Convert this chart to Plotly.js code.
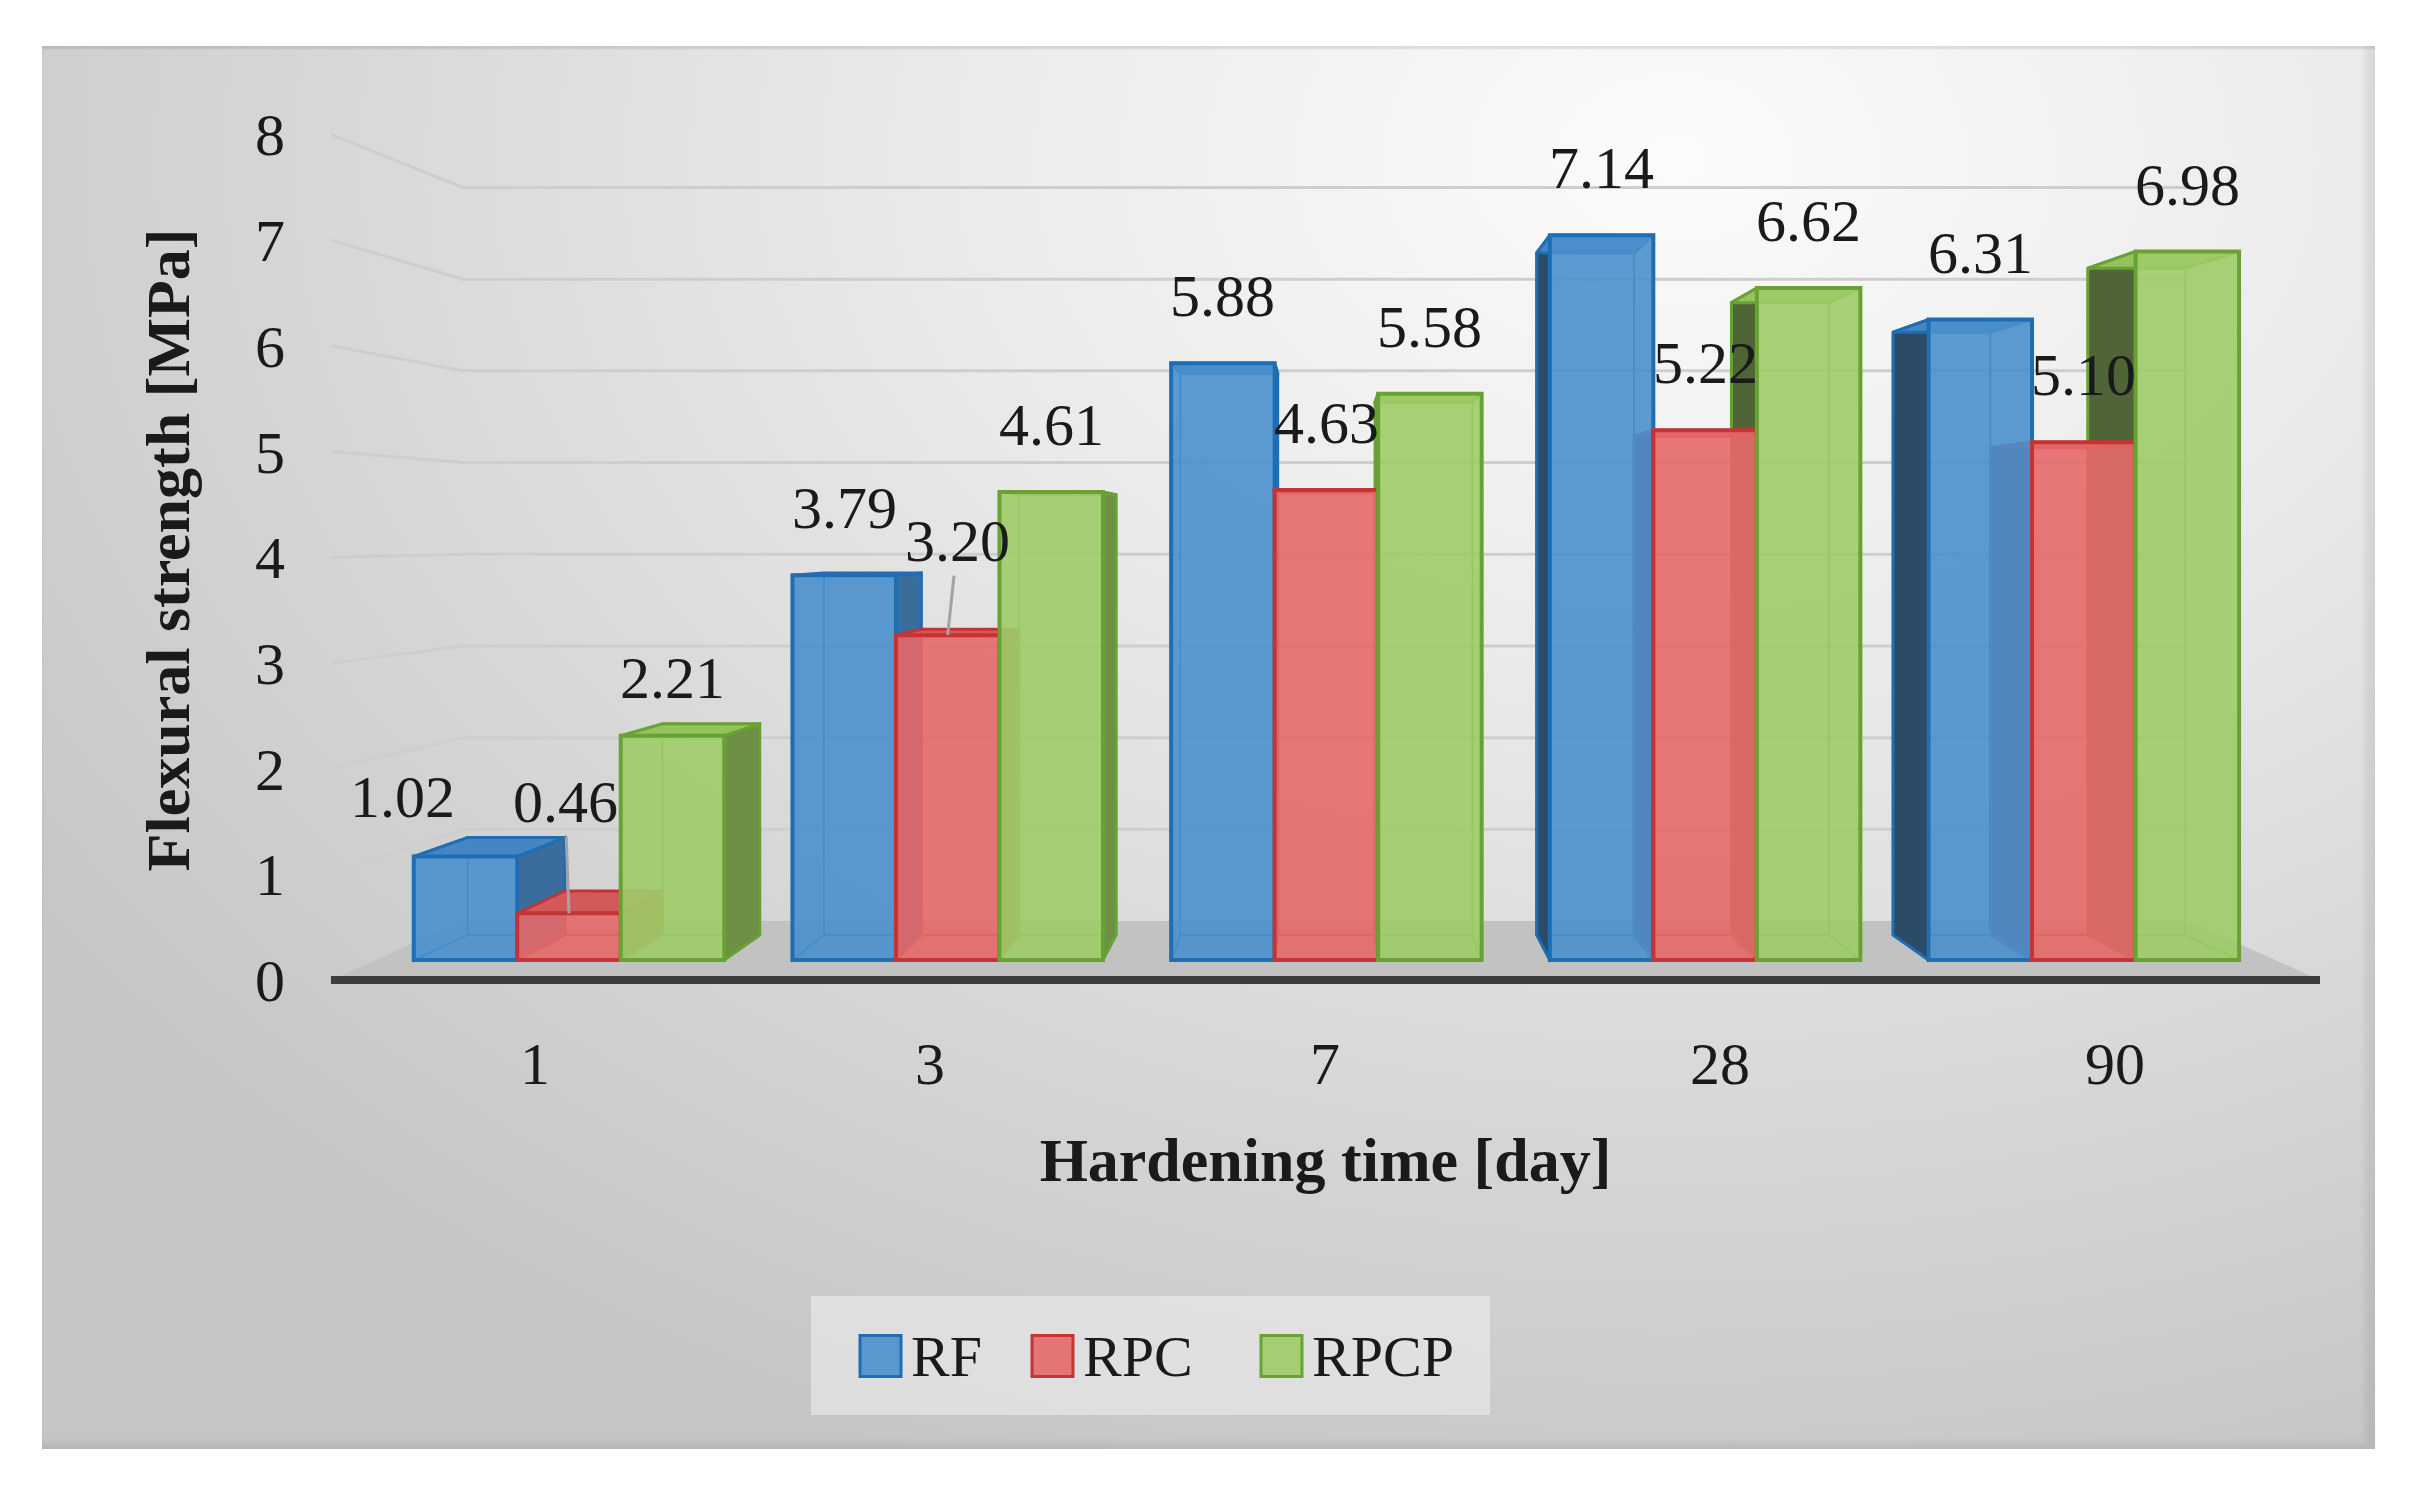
<!DOCTYPE html>
<html>
<head>
<meta charset="utf-8">
<script src="https://cdn.plot.ly/plotly-3.0.1.min.js"></script>
<style>
  html, body { margin: 0; padding: 0; background: #ffffff; }
  #wrap { position: relative; width: 2417px; height: 1490px; }
  #panel {
    position: absolute; left: 42px; top: 46px; width: 2333px; height: 1403px;
    background: radial-gradient(ellipse 85% 100% at 70% 8%, #fbfbfb 0%, #ebebeb 35%, #d6d6d6 70%, #c5c5c5 100%);
    box-shadow: inset 0 3px 2px rgba(0,0,0,0.10), inset -10px -6px 6px rgba(0,0,0,0.07);
  }
  #chart { position: absolute; left: 0; top: 0; width: 2417px; height: 1490px; }
</style>
</head>
<body>
<div id="wrap"><div id="panel"></div><div id="chart"></div></div>
<script>
const categories = ["1", "3", "7", "28", "90"];
const seriesNames = ["RF", "RPC", "RPCP"];
const rfValues = [1.02, 3.79, 5.88, 7.14, 6.31];
const rpcValues = [0.46, 3.2, 4.63, 5.22, 5.1];
const rpcpValues = [2.21, 4.61, 5.58, 6.62, 6.98];
const yTickValues = [0, 1, 2, 3, 4, 5, 6, 7, 8];

const seriesValues = [rfValues, rpcValues, rpcpValues];

const palette = [
  { front: "rgba(74,144,205,0.9)", edge: "#1f6db2", top: "#4586c2", right: "#3b6d9c", left: "#2c4b66" },
  { front: "rgba(230,104,104,0.9)", edge: "#c53434", top: "#d25a5a", right: "#b84646", left: "#8e3434" },
  { front: "rgba(158,204,104,0.9)", edge: "#68a234", top: "#94c25c", right: "#6d8f46", left: "#4f6437" },
];

const W = 2417, H = 1490;
const M = { l: 331, r: 97, t: 110, b: 500 };
const FONT = "'Liberation Serif', 'Times New Roman', serif";

// screen geometry of the fake 3D scene, in px
const CAT0_PX = 569, CAT_STEP_PX = 378.7;       // bar front faces
const LBL0_PX = 535, LBL_STEP_PX = 395;         // category labels
const BAR_BASE_PX = 960, BAR_UNIT_PX = 101.5;   // value scale on bar fronts
const WALL_BASE_PX = 980, WALL_UNIT_PX = 105.7; // value scale at the wall front
const HORIZON_PX = 535, VANISH_PX = 1326;
const BAR_DEPTH = 0.941, WALL_DEPTH = 0.8675;

const x0 = M.l, x1 = W - M.r, y0 = M.t, y1 = H - M.b;
const catRange = [(x0 - CAT0_PX) / CAT_STEP_PX, (x1 - CAT0_PX) / CAT_STEP_PX];
const lblRange = [(x0 - LBL0_PX) / LBL_STEP_PX, (x1 - LBL0_PX) / LBL_STEP_PX];
const barRange = [(BAR_BASE_PX - y1) / BAR_UNIT_PX, (BAR_BASE_PX - y0) / BAR_UNIT_PX];
const wallRange = [(WALL_BASE_PX - y1) / WALL_UNIT_PX, (WALL_BASE_PX - y0) / WALL_UNIT_PX];

const vx = (VANISH_PX - CAT0_PX) / CAT_STEP_PX;
const hBar = (BAR_BASE_PX - HORIZON_PX) / BAR_UNIT_PX;
const hWall = (WALL_BASE_PX - HORIZON_PX) / WALL_UNIT_PX;
const barWidth = 0.82 / seriesNames.length;

const paperX = (px) => (px - x0) / (x1 - x0);
const paperY = (py) => (y1 - py) / (y1 - y0);
const wallToBar = (t) => (BAR_BASE_PX - (WALL_BASE_PX - WALL_UNIT_PX * t)) / BAR_UNIT_PX;

function backBar(x, y) {
  return [vx + (x - vx) * BAR_DEPTH, hBar + (y - hBar) * BAR_DEPTH];
}
function backWall(x, t) {
  return [vx + (x - vx) * WALL_DEPTH, wallToBar(hWall + (t - hWall) * WALL_DEPTH)];
}

const deco = { type: "scatter", xaxis: "x", yaxis: "y", hoverinfo: "skip", showlegend: false };

// floor, back wall grid, front edge
const fl = backWall(catRange[0], 0), fr = backWall(catRange[1], 0);
const floorTrace = {
  ...deco, mode: "lines", fill: "toself", fillcolor: "#c2c2c2", line: { width: 0, color: "#c2c2c2" },
  x: [catRange[0], catRange[1], fr[0], fl[0], catRange[0]],
  y: [wallToBar(0), wallToBar(0), fr[1], fl[1], wallToBar(0)],
};

const gx = [], gy = [];
yTickValues.filter((t) => t > 0).forEach((t) => {
  const bl = backWall(catRange[0], t);
  const br = backWall(catRange[1], t);
  gx.push(catRange[0], bl[0], br[0], null);
  gy.push(wallToBar(t), bl[1], br[1], null);
});
const gridTrace = { ...deco, mode: "lines", x: gx, y: gy, line: { color: "#cecece", width: 3 } };

const edgeTrace = {
  ...deco, mode: "lines", x: catRange, y: [wallToBar(0), wallToBar(0)],
  line: { color: "#3d3d3d", width: 8 },
};

// side/top faces of each bar, far ones first
const boxes = [];
seriesValues.forEach((vals, j) => vals.forEach((v, i) => {
  const xl = i + (j - 1.5) * barWidth;
  boxes.push({ j, v, xl, xr: xl + barWidth });
}));
boxes.sort((a, b) => Math.abs((b.xl + b.xr) / 2 - vx) - Math.abs((a.xl + a.xr) / 2 - vx));

function face(pts, fill, edge) {
  return {
    ...deco, mode: "lines", fill: "toself", fillcolor: fill, line: { color: edge, width: 3 },
    x: pts.map((p) => p[0]), y: pts.map((p) => p[1]),
  };
}

const faceTraces = [];
boxes.forEach((b) => {
  const c = palette[b.j];
  const fl0 = [b.xl, 0], fr0 = [b.xr, 0], flv = [b.xl, b.v], frv = [b.xr, b.v];
  const bl0 = backBar(b.xl, 0), br0 = backBar(b.xr, 0), blv = backBar(b.xl, b.v), brv = backBar(b.xr, b.v);
  faceTraces.push({
    ...deco, mode: "lines", line: { color: c.edge, width: 2 },
    x: [fl0[0], bl0[0], br0[0], fr0[0], null, bl0[0], blv[0], brv[0], br0[0]],
    y: [fl0[1], bl0[1], br0[1], fr0[1], null, bl0[1], blv[1], brv[1], br0[1]],
  });
  if (b.xr < vx) faceTraces.push(face([fr0, frv, brv, br0, fr0], c.right, c.edge));
  if (b.xl > vx) faceTraces.push(face([fl0, flv, blv, bl0, fl0], c.left, c.edge));
  faceTraces.push(face([flv, frv, brv, blv, flv], c.top, c.edge));
});

// front faces
const barTraces = seriesNames.map((name, j) => ({
  type: "bar", name, xaxis: "x", yaxis: "y2",
  x: categories.map((_, i) => i), y: seriesValues[j],
  width: barWidth, offset: (j - 1.5) * barWidth,
  marker: { color: palette[j].front, line: { color: palette[j].edge, width: 4 } },
  customdata: categories,
  hovertemplate: name + " – day %{customdata}: %{y:.2f} MPa<extra></extra>",
  showlegend: false,
}));

// carrier for the visible tick labels
const axisTrace = {
  type: "scatter", xaxis: "x2", yaxis: "y3", mode: "markers",
  x: categories.map((_, i) => i), y: categories.map(() => 0),
  marker: { opacity: 0 }, hoverinfo: "skip", showlegend: false,
};

// value labels
const labelNudge = {
  "0-0": { xshift: -63, yshift: 59 },
  "1-0": { arrow: true, ax: -4, ay: -111 },
  "1-1": { arrow: true, ax: 10, ay: -94 },
  "2-0": { yshift: 58 },
};
const annotations = [];
seriesValues.forEach((vals, j) => vals.forEach((v, i) => {
  const n = labelNudge[j + "-" + i] || {};
  const a = {
    xref: "x", yref: "y", x: i + (j - 1) * barWidth, y: v,
    text: v.toFixed(2), font: { family: FONT, size: 60, color: "#1a1a1a" },
    showarrow: !!n.arrow, xanchor: "center", yanchor: "middle",
  };
  if (n.arrow) {
    Object.assign(a, { ax: n.ax, ay: n.ay, arrowhead: 0, arrowwidth: 3, arrowcolor: "#a3a3a3", standoff: 0 });
  } else {
    a.xshift = n.xshift || 0;
    a.yshift = n.yshift == null ? 67 : n.yshift;
  }
  annotations.push(a);
}));

// legend drawn by hand so the swatches match the picture
const LEGEND_BOX = [811, 1296, 1490, 1415];
const LEGEND_X = [860, 1032, 1261];
const SWATCH = 41, LEGEND_CY = 1356;
const shapes = [{
  type: "rect", xref: "paper", yref: "paper", layer: "below",
  x0: paperX(LEGEND_BOX[0]), x1: paperX(LEGEND_BOX[2]),
  y0: paperY(LEGEND_BOX[1]), y1: paperY(LEGEND_BOX[3]),
  fillcolor: "rgba(240,240,240,0.55)", line: { width: 0 },
}];
seriesNames.forEach((name, j) => {
  shapes.push({
    type: "rect", xref: "paper", yref: "paper",
    x0: paperX(LEGEND_X[j]), x1: paperX(LEGEND_X[j] + SWATCH),
    y0: paperY(LEGEND_CY - SWATCH / 2), y1: paperY(LEGEND_CY + SWATCH / 2),
    fillcolor: palette[j].front, line: { color: palette[j].edge, width: 3 },
  });
  annotations.push({
    xref: "paper", yref: "paper", x: paperX(LEGEND_X[j] + SWATCH + 8), y: paperY(LEGEND_CY),
    xanchor: "left", yanchor: "middle", showarrow: false,
    text: name, font: { family: FONT, size: 58, color: "#1a1a1a" },
  });
});

const layout = {
  width: W, height: H, margin: M,
  paper_bgcolor: "rgba(0,0,0,0)", plot_bgcolor: "rgba(0,0,0,0)",
  font: { family: FONT, color: "#1a1a1a", size: 60 },
  showlegend: false, barmode: "overlay",
  xaxis: { range: catRange, visible: false },
  yaxis: { range: barRange, visible: false },
  yaxis2: { overlaying: "y", range: barRange, visible: false },
  xaxis2: {
    overlaying: "x", anchor: "y3", side: "bottom", range: lblRange,
    tickmode: "array", tickvals: categories.map((_, i) => i), ticktext: categories,
    showgrid: false, zeroline: false, showline: false, ticks: "",
    ticklabelstandoff: 33, tickfont: { size: 60 },
    title: { text: "Hardening time [day]", font: { size: 62, weight: "bold" }, standoff: 41 },
  },
  yaxis3: {
    overlaying: "y", anchor: "x2", side: "left", range: wallRange,
    tickmode: "array", tickvals: yTickValues,
    showgrid: false, zeroline: false, showline: false, ticks: "",
    ticklabelstandoff: 45, tickfont: { size: 60 },
    title: { text: "Flexural strength [MPa]", font: { size: 62, weight: "bold" }, standoff: 45 },
  },
  shapes, annotations,
};

Plotly.newPlot("chart", [floorTrace, gridTrace, edgeTrace, ...faceTraces, ...barTraces, axisTrace], layout, {
  displayModeBar: false, staticPlot: true,
});
</script>
</body>
</html>
